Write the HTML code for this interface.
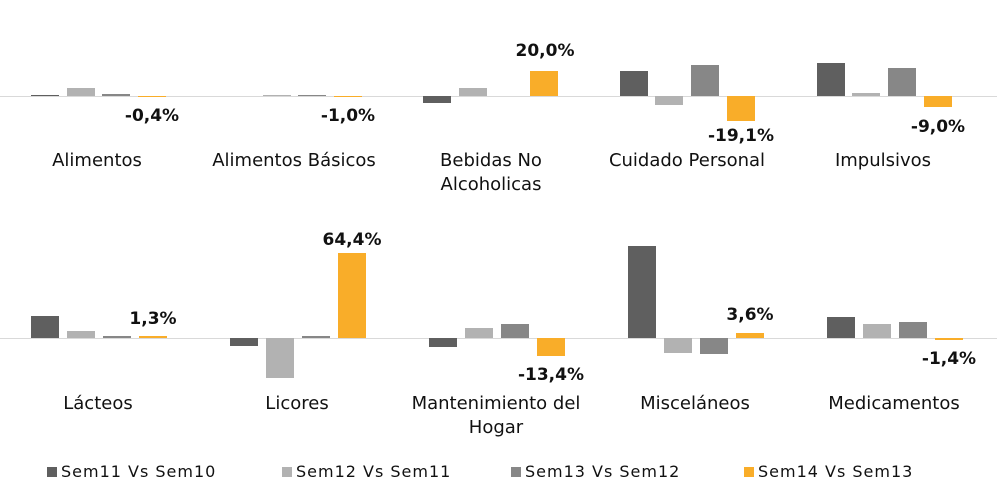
<!DOCTYPE html>
<html><head><meta charset="utf-8"><style>
body{margin:0;width:997px;height:504px;background:#fff;position:relative;overflow:hidden;font-family:"DejaVu Sans","Liberation Sans",sans-serif;color:#111}
.b{position:absolute;width:28px}
.d{background:#5f5f5f}.l{background:#b2b2b2}.m{background:#878787}.o{background:#f9ad29}
.base{position:absolute;left:0;width:997px;height:1px;background:#d9d9d9}
.c{position:absolute;width:200px;text-align:center;font-size:18px;line-height:24px}
.v{position:absolute;width:80px;text-align:center;font-size:17px;font-weight:bold}
.lg{position:absolute;top:462px;font-size:16px;line-height:20px;letter-spacing:1px}
.lg i{display:inline-block;width:10px;height:10px;margin-right:4px}
</style></head><body>
<div class="base" style="top:96px"></div>
<div class="base" style="top:338px"></div>

<div class="b d" style="left:31px;top:95px;height:1px"></div>
<div class="b l" style="left:67px;top:88px;height:8px"></div>
<div class="b m" style="left:102px;top:94px;height:2px"></div>
<div class="b o" style="left:138px;top:96px;height:1px"></div>

<div class="b l" style="left:263px;top:95px;height:1px"></div>
<div class="b m" style="left:298px;top:95px;height:1px"></div>
<div class="b o" style="left:334px;top:96px;height:1px"></div>

<div class="b d" style="left:423px;top:96px;height:7px"></div>
<div class="b l" style="left:459px;top:88px;height:8px"></div>
<div class="b o" style="left:530px;top:71px;height:25px"></div>

<div class="b d" style="left:620px;top:71px;height:25px"></div>
<div class="b l" style="left:655px;top:96px;height:9px"></div>
<div class="b m" style="left:691px;top:65px;height:31px"></div>
<div class="b o" style="left:727px;top:96px;height:25px"></div>

<div class="b d" style="left:817px;top:63px;height:33px"></div>
<div class="b l" style="left:852px;top:93px;height:3px"></div>
<div class="b m" style="left:888px;top:68px;height:28px"></div>
<div class="b o" style="left:924px;top:96px;height:11px"></div>

<div class="v" style="left:112px;top:106px">-0,4%</div>
<div class="v" style="left:308px;top:106px">-1,0%</div>
<div class="v" style="left:505px;top:41px">20,0%</div>
<div class="v" style="left:701px;top:126px">-19,1%</div>
<div class="v" style="left:898px;top:117px">-9,0%</div>

<div class="c" style="left:-3px;top:149px">Alimentos</div>
<div class="c" style="left:194px;top:149px">Alimentos Básicos</div>
<div class="c" style="left:391px;top:149px">Bebidas No<br>Alcoholicas</div>
<div class="c" style="left:587px;top:149px">Cuidado Personal</div>
<div class="c" style="left:783px;top:149px">Impulsivos</div>

<div class="b d" style="left:31px;top:316px;height:22px"></div>
<div class="b l" style="left:67px;top:331px;height:7px"></div>
<div class="b m" style="left:103px;top:336px;height:2px"></div>
<div class="b o" style="left:139px;top:336px;height:2px"></div>

<div class="b d" style="left:230px;top:338px;height:8px"></div>
<div class="b l" style="left:266px;top:338px;height:40px"></div>
<div class="b m" style="left:302px;top:336px;height:2px"></div>
<div class="b o" style="left:338px;top:253px;height:85px"></div>

<div class="b d" style="left:429px;top:338px;height:9px"></div>
<div class="b l" style="left:465px;top:328px;height:10px"></div>
<div class="b m" style="left:501px;top:324px;height:14px"></div>
<div class="b o" style="left:537px;top:338px;height:18px"></div>

<div class="b d" style="left:628px;top:246px;height:92px"></div>
<div class="b l" style="left:664px;top:338px;height:15px"></div>
<div class="b m" style="left:700px;top:338px;height:16px"></div>
<div class="b o" style="left:736px;top:333px;height:5px"></div>

<div class="b d" style="left:827px;top:317px;height:21px"></div>
<div class="b l" style="left:863px;top:324px;height:14px"></div>
<div class="b m" style="left:899px;top:322px;height:16px"></div>
<div class="b o" style="left:935px;top:338px;height:2px"></div>

<div class="v" style="left:113px;top:309px">1,3%</div>
<div class="v" style="left:312px;top:230px">64,4%</div>
<div class="v" style="left:511px;top:365px">-13,4%</div>
<div class="v" style="left:710px;top:305px">3,6%</div>
<div class="v" style="left:909px;top:349px">-1,4%</div>

<div class="c" style="left:-2px;top:392px">Lácteos</div>
<div class="c" style="left:197px;top:392px">Licores</div>
<div class="c" style="left:396px;top:392px">Mantenimiento del<br>Hogar</div>
<div class="c" style="left:595px;top:392px">Misceláneos</div>
<div class="c" style="left:794px;top:392px">Medicamentos</div>

<div class="lg" style="left:47px"><i class="d"></i>Sem11 Vs Sem10</div>
<div class="lg" style="left:282px"><i class="l"></i>Sem12 Vs Sem11</div>
<div class="lg" style="left:511px"><i class="m"></i>Sem13 Vs Sem12</div>
<div class="lg" style="left:744px"><i class="o"></i>Sem14 Vs Sem13</div>
</body></html>
